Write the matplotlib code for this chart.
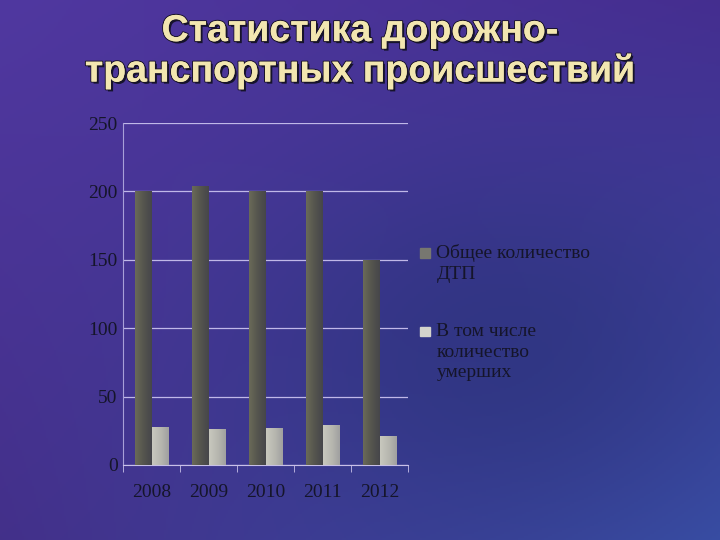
import matplotlib
matplotlib.use('Agg')
import matplotlib.pyplot as plt
import matplotlib.patheffects as pe
from matplotlib.colors import LinearSegmentedColormap
from matplotlib.patches import Rectangle
import numpy as np

# Data
years = ['2008', '2009', '2010', '2011', '2012']
total_dtp = [200, 204, 200, 200, 150]
deaths = [28, 26, 27, 29, 21]
labels = ['Общее количество\nДТП', 'В том числе\nколичество\nумерших']
title = 'Статистика дорожно-\nтранспортных происшествий'

fig = plt.figure(figsize=(7.2, 5.4), dpi=100)

# Background gradient (corners + darker middle)
bg = fig.add_axes([0, 0, 1, 1], zorder=-10)
bg.axis('off')
h, w = 270, 360
yy, xx = np.mgrid[0:1:h*1j, 0:1:w*1j]
tl = np.array([0x50, 0x38, 0xa0]) / 255
tr = np.array([0x45, 0x2e, 0x90]) / 255
bl = np.array([0x43, 0x30, 0x8a]) / 255
br = np.array([0x3a, 0x50, 0xa8]) / 255
img = (tl * ((1 - xx) * (1 - yy))[..., None] + tr * (xx * (1 - yy))[..., None]
       + bl * ((1 - xx) * yy)[..., None] + br * (xx * yy)[..., None])
dark = np.exp(-(((xx - 0.7) / 0.35) ** 2 + ((yy - 0.65) / 0.35) ** 2))
navy = np.array([0x26, 0x30, 0x74]) / 255
img = img * (1 - 0.6 * dark[..., None]) + navy * (0.6 * dark[..., None])
bg.imshow(img, extent=[0, 1, 0, 1], aspect='auto', origin='upper')
bg.set_xlim(0, 1)
bg.set_ylim(0, 1)

ax = fig.add_axes([0.171, 0.139, 0.396, 0.633])
ax.patch.set_alpha(0)

x = np.arange(len(years))
bw = 0.29
b1 = ax.bar(x - bw / 2, total_dtp, bw, color='#58584f', zorder=3)
b2 = ax.bar(x + bw / 2, deaths, bw, color='#b8b8b0', zorder=3)

# horizontal shading on bars
cm_dark = LinearSegmentedColormap.from_list('d', ['#6a6a58', '#55554e', '#46464a'])
cm_light = LinearSegmentedColormap.from_list('l', ['#c8c8be', '#b8b8b0', '#a0a0a0'])
grad = np.linspace(0, 1, 64).reshape(1, -1)
for bars, cm in ((b1, cm_dark), (b2, cm_light)):
    for r in bars:
        x0, y0 = r.get_x(), r.get_y()
        im = ax.imshow(grad, cmap=cm, aspect='auto', zorder=4,
                       extent=[x0, x0 + r.get_width(), y0, y0 + r.get_height()])
        im.set_clip_path(r)

ax.set_xlim(-0.5, len(years) - 0.5)
ax.set_ylim(0, 250)
ax.set_yticks([0, 50, 100, 150, 200, 250])
ax.set_xticks(x)
ax.set_xticklabels(years)
ax.set_xticks(np.arange(len(years) + 1) - 0.5, minor=True)
ax.tick_params(axis='x', which='major', length=0, pad=14)
ax.tick_params(axis='x', which='minor', length=5, color='#c8c0e8', direction='out')
ax.tick_params(axis='y', length=0, pad=4)
for t in ax.get_xticklabels() + ax.get_yticklabels():
    t.set_fontfamily('Liberation Serif')
    t.set_fontsize(14)
    t.set_color('#15152a')
ax.grid(axis='y', color='#c0b8e8', linewidth=0.9, zorder=1)
for s in ['top', 'right']:
    ax.spines[s].set_visible(False)
ax.spines['left'].set_color('#a8a0d8')
ax.spines['bottom'].set_color('#c8c0e8')

# legend, marker aligned with first text line
leg_colors = ['#777770', '#d4d4cc']
leg_y = [0.534, 0.388]
for lab, col, ly in zip(labels, leg_colors, leg_y):
    fig.patches.append(Rectangle((0.584, ly - 0.011), 0.0135, 0.018,
                                 transform=fig.transFigure, color=col))
    fig.text(0.606, ly + 0.014, lab, ha='left', va='top', fontsize=14,
             family='Liberation Serif', color='#15152a', linespacing=1.28)

fig.text(0.5, 0.905, title, ha='center', va='center', fontsize=27,
         fontweight='bold', family='Liberation Sans', color='#f2e6b0',
         linespacing=1.12,
         path_effects=[pe.withSimplePatchShadow(offset=(1.5, -1.5), shadow_rgbFace='#101020', alpha=0.9),
                       pe.withStroke(linewidth=1.5, foreground='#1a1428'), pe.Normal()])

fig.savefig('out.png', dpi=100)
